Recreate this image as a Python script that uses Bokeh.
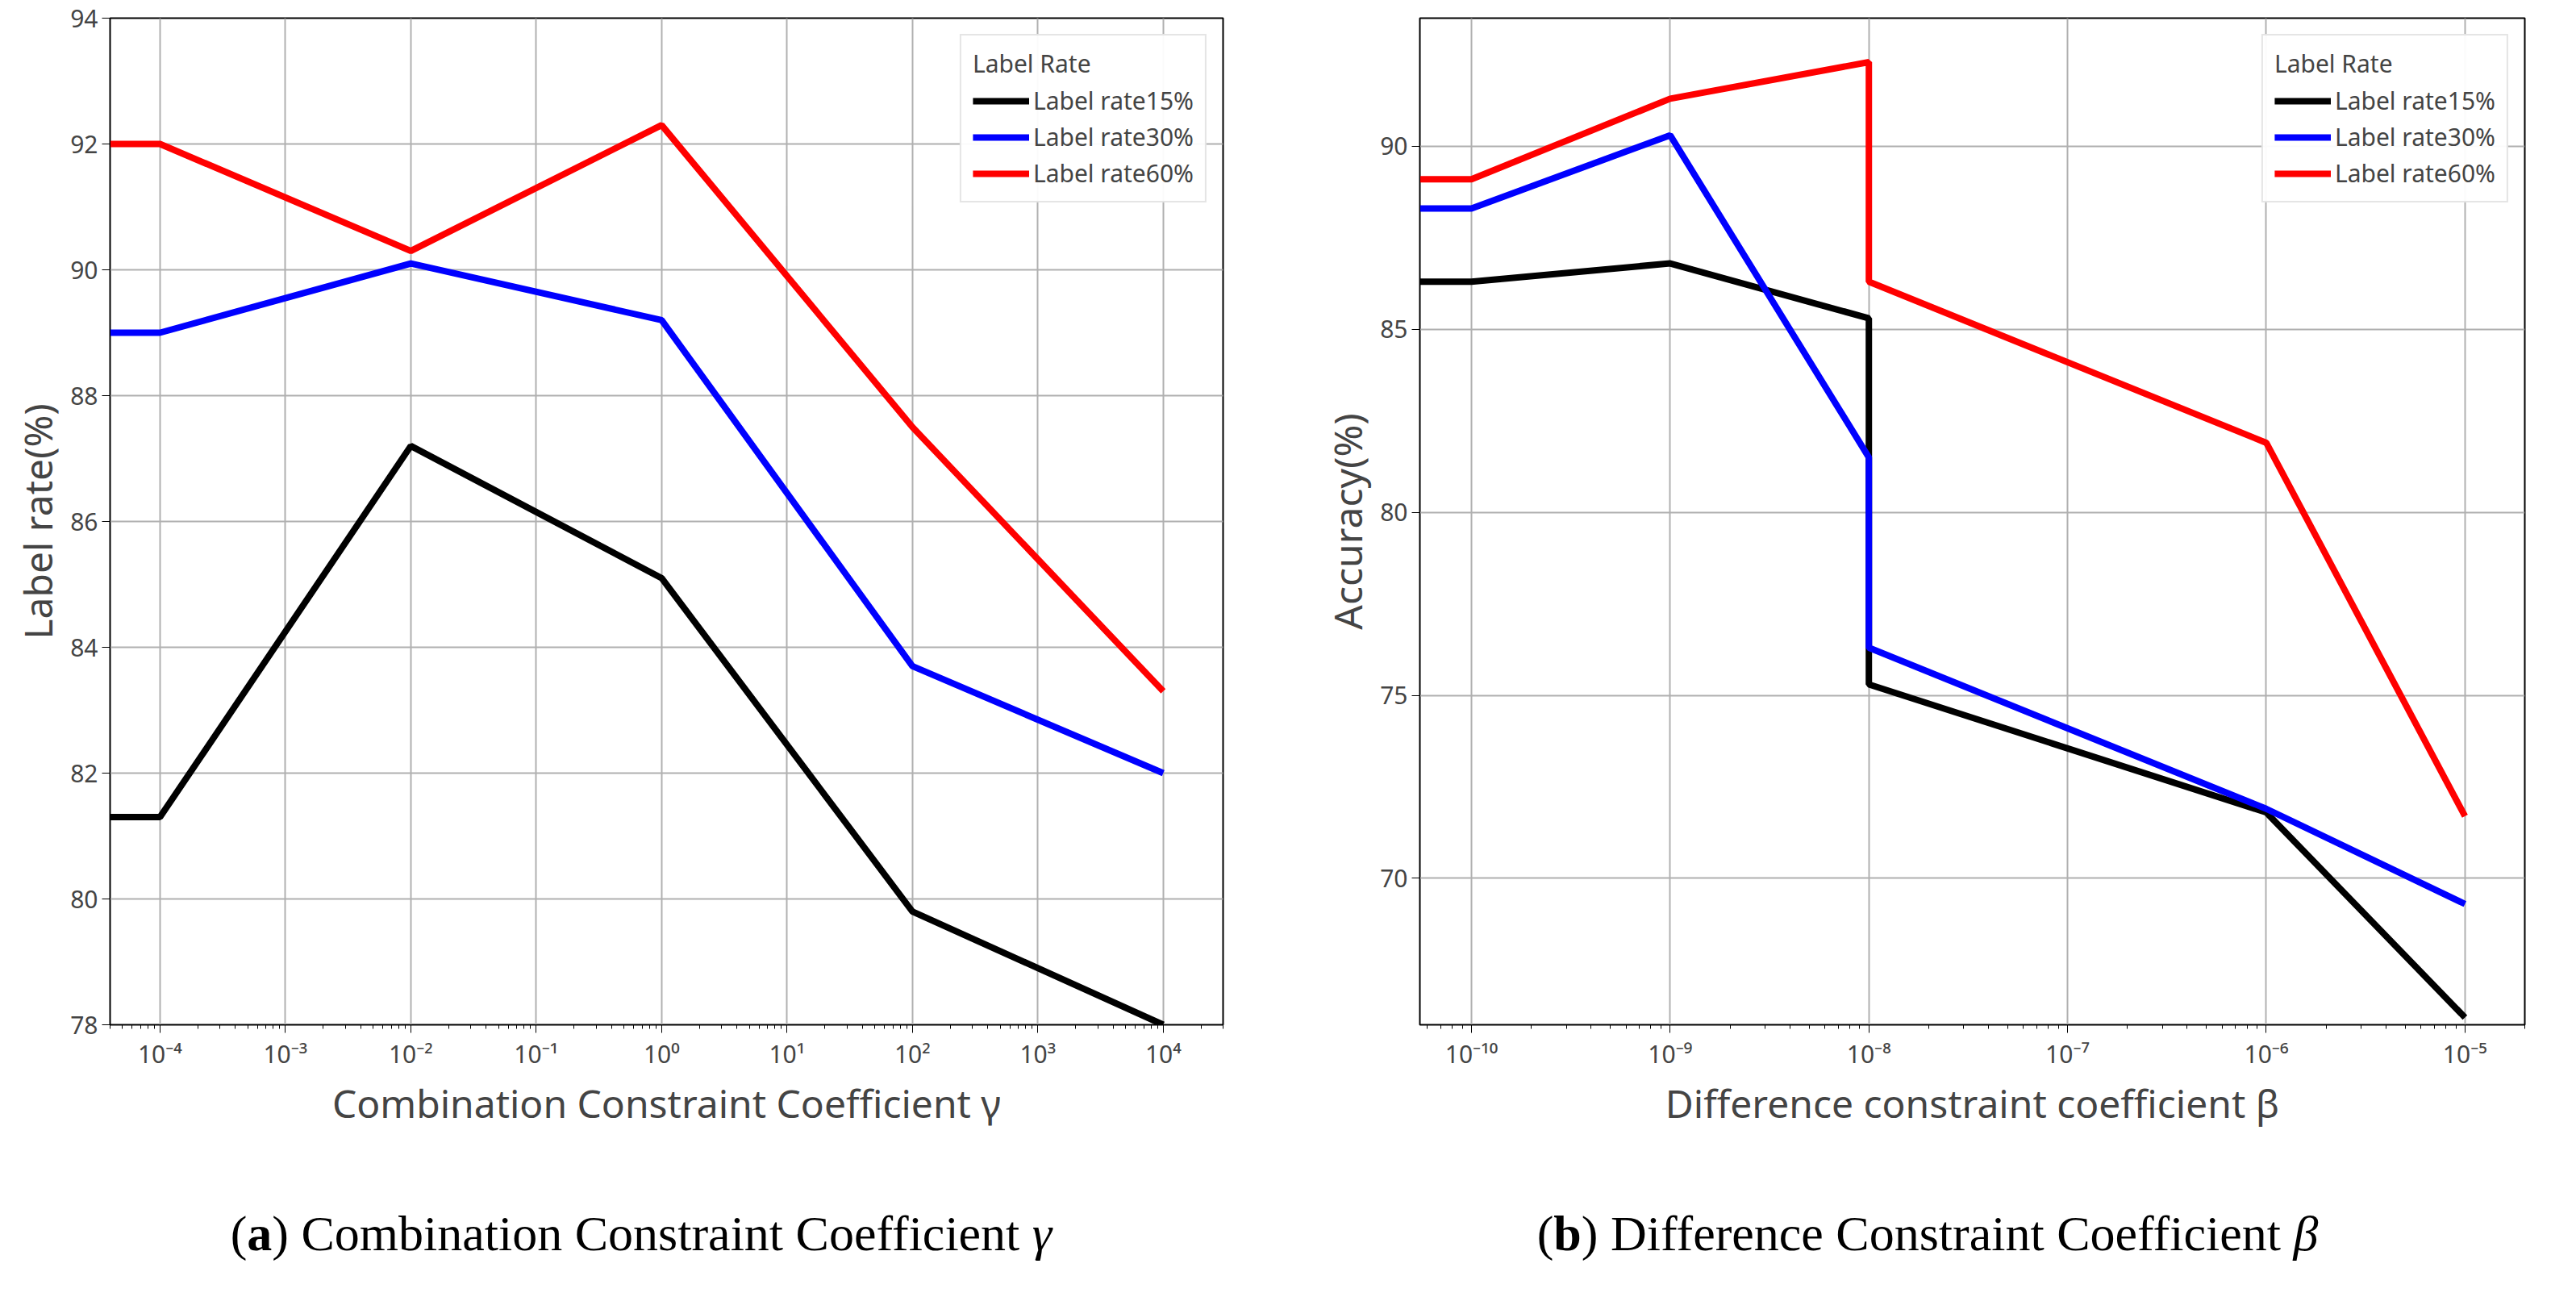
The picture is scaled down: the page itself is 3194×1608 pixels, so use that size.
from bokeh.plotting import figure
from bokeh.layouts import column, row
from bokeh.models import FixedTicker, Div, Range1d, Legend
from bokeh.embed import file_html
from bokeh.resources import INLINE

# Left panel data
gamma_x = [1e-5, 1e-4, 1e-2, 1e0, 1e2, 1e4]
g_15 = [81.3, 81.3, 87.2, 85.1, 79.8, 78.0]
g_30 = [89.0, 89.0, 90.1, 89.2, 83.7, 82.0]
g_60 = [92.0, 92.0, 90.3, 92.3, 87.5, 83.3]
gamma_ticks = [1e-4, 1e-3, 1e-2, 1e-1, 1e0, 1e1, 1e2, 1e3, 1e4]
gamma_labels = ["10⁻⁴", "10⁻³", "10⁻²", "10⁻¹", "10⁰", "10¹", "10²", "10³", "10⁴"]

# Right panel data
beta_x = [1e-11, 1e-10, 1e-9, 1e-8, 1e-8, 1e-6, 1e-5]
b_15 = [86.3, 86.3, 86.8, 85.3, 75.3, 71.8, 66.2]
b_30 = [88.3, 88.3, 90.3, 81.5, 76.3, 71.9, 69.3]
b_60 = [89.1, 89.1, 91.3, 92.3, 86.3, 81.9, 71.7]
beta_ticks = [1e-10, 1e-9, 1e-8, 1e-7, 1e-6, 1e-5]
beta_labels = ["10⁻¹⁰", "10⁻⁹", "10⁻⁸", "10⁻⁷", "10⁻⁶", "10⁻⁵"]

series_names = ["Label rate15%", "Label rate30%", "Label rate60%"]
colors = ["black", "blue", "red"]
FONT = "Noto Sans"


def minor(lo, hi):
    out = []
    for e in range(lo, hi + 1):
        for m in range(2, 10):
            out.append(m * 10.0 ** e)
    return out


def make(xs, ys_list, xr, yr, ticks, labels, yticks, xlabel, ylabel, w, bl, br, mlo, mhi):
    p = figure(width=w, height=1420, x_axis_type="log", output_backend="svg",
               toolbar_location=None, x_range=Range1d(*xr), y_range=Range1d(*yr),
               min_border_left=bl, min_border_right=br, min_border_top=22, min_border_bottom=150)
    items = []
    for ys, c, n in zip(ys_list, colors, series_names):
        r = p.line(xs, ys, color=c, line_width=8)
        items.append((n, [r]))
    p.xaxis.ticker = FixedTicker(ticks=ticks, minor_ticks=minor(mlo, mhi))
    p.xaxis.major_label_overrides = {t: l for t, l in zip(ticks, labels)}
    p.yaxis.ticker = FixedTicker(ticks=yticks)
    for ax in (p.xaxis, p.yaxis):
        ax.major_label_text_font = FONT
        ax.major_label_text_font_size = "30px"
        ax.axis_label_text_font = FONT
        ax.axis_label_text_font_size = "48px"
        ax.axis_label_text_font_style = "normal"
        ax.axis_line_color = "black"
        ax.major_tick_line_color = "black"
        ax.minor_tick_line_color = "black"
        ax.major_tick_out = 10
        ax.minor_tick_out = 5
        ax.major_tick_in = 0
        ax.minor_tick_in = 0
    p.yaxis.minor_tick_line_color = None
    p.xaxis.axis_label = xlabel
    p.yaxis.axis_label = ylabel
    p.grid.grid_line_color = "#b0b0b0"
    p.grid.grid_line_width = 2
    p.outline_line_color = "black"
    p.outline_line_width = 2
    leg = Legend(items=items, location="top_right", title="Label Rate")
    leg.title_text_font = FONT
    leg.title_text_font_size = "30px"
    leg.title_text_font_style = "normal"
    leg.label_text_font = FONT
    leg.label_text_font_size = "30px"
    leg.glyph_width = 70
    leg.border_line_color = "#cccccc"
    leg.border_line_width = 2
    leg.margin = 20
    leg.padding = 14
    leg.spacing = 4
    p.add_layout(leg)
    return p


p1 = make(gamma_x, [g_15, g_30, g_60], (4e-5, 3e4), (78, 94), gamma_ticks, gamma_labels,
          [78, 80, 82, 84, 86, 88, 90, 92, 94], "Combination Constraint Coefficient γ",
          "Label rate(%)", 1580, 136, 64, -5, 4)
p2 = make(beta_x, [b_15, b_30, b_60], (5.5e-11, 2e-5), (66, 93.5), beta_ticks, beta_labels,
          [70, 75, 80, 85, 90], "Difference constraint coefficient β",
          "Accuracy(%)", 1590, 180, 40, -11, -5)

cap_style = {"font-family": "Liberation Serif", "font-size": "62px", "text-align": "center",
             "padding-top": "60px"}
c1 = Div(text="(<b>a</b>) Combination Constraint Coefficient <i>γ</i>", width=1580, height=160,
         styles=cap_style)
c2 = Div(text="(<b>b</b>) Difference Constraint Coefficient <i>β</i>", width=1590, height=160,
         styles=cap_style)

layout = column(row(p1, p2), row(c1, c2))
open("out.html", "w").write(file_html(layout, INLINE))
